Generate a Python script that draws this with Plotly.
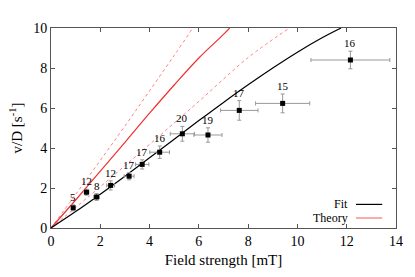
import plotly.graph_objects as go

# measured data points
field = [0.90, 1.44, 1.85, 2.42, 3.17, 3.70, 4.41, 5.33, 6.37, 7.64, 9.40, 12.15]
vd = [1.01, 1.79, 1.55, 2.13, 2.59, 3.18, 3.79, 4.71, 4.65, 5.88, 6.23, 8.40]
field_err = [0.05, 0.10, 0.12, 0.16, 0.20, 0.27, 0.40, 0.49, 0.57, 0.76, 1.10, 1.60]
vd_err = [0.15, 0.15, 0.17, 0.23, 0.18, 0.23, 0.31, 0.37, 0.36, 0.49, 0.47, 0.44]
counts = ["5", "12", "8", "12", "17", "17", "16", "20", "19", "17", "15", "16"]

# curves
fit_x = [0, 1, 2, 3, 4, 5, 6, 7, 8, 9, 10, 11, 11.77]
fit_y = [0, 0.82, 1.69, 2.59, 3.51, 4.44, 5.37, 6.28, 7.16, 8.00, 8.79, 9.51, 10.0]
theory_x = [0, 1, 2, 3, 4, 5, 6, 7, 7.25]
theory_y = [0, 1.40, 2.84, 4.28, 5.74, 7.15, 8.50, 9.68, 10.0]
upper_x = [0, 1, 2, 3, 4, 5, 5.76]
upper_y = [0, 1.68, 3.38, 5.10, 6.86, 8.63, 10.0]
lower_x = [0, 2, 4, 6, 8, 9.68]
lower_y = [0, 2.06, 4.18, 6.33, 8.52, 10.0]

SERIF = "'Liberation Serif', 'DejaVu Serif', serif"

fig = go.Figure()
fig.add_trace(go.Scatter(x=upper_x, y=upper_y, mode="lines", line=dict(color="#ff8080", width=1, dash="3px,3px", shape="spline"), showlegend=False))
fig.add_trace(go.Scatter(x=lower_x, y=lower_y, mode="lines", line=dict(color="#ff8080", width=1, dash="3px,3px", shape="spline"), showlegend=False))
fig.add_trace(go.Scatter(x=theory_x, y=theory_y, mode="lines", line=dict(color="#f03030", width=1.2, shape="spline"), showlegend=False))
fig.add_trace(go.Scatter(x=fit_x, y=fit_y, mode="lines", line=dict(color="black", width=1.2, shape="spline"), showlegend=False))
fig.add_trace(go.Scatter(
    x=field, y=vd, mode="markers",
    marker=dict(symbol="square", size=5, color="black"),
    error_x=dict(type="data", array=field_err, color="#999999", thickness=1, width=2),
    error_y=dict(type="data", array=vd_err, color="#999999", thickness=1, width=2),
    showlegend=False))

for x, y, e, t in zip(field, vd, vd_err, counts):
    fig.add_annotation(x=x, y=y + e, text=t, showarrow=False, yanchor="bottom", yshift=0,
                       font=dict(family=SERIF, size=11, color="black"))

# legend (text left of line sample)
fig.add_annotation(xref="paper", yref="paper", x=0.866, y=0.118, text="Fit", showarrow=False,
                   xanchor="right", yanchor="middle", font=dict(family=SERIF, size=12, color="black"))
fig.add_annotation(xref="paper", yref="paper", x=0.866, y=0.050, text="Theory", showarrow=False,
                   xanchor="right", yanchor="middle", font=dict(family=SERIF, size=12, color="black"))
fig.add_shape(type="line", xref="paper", yref="paper", x0=0.884, x1=0.960, y0=0.118, y1=0.118,
              line=dict(color="black", width=1.2))
fig.add_shape(type="line", xref="paper", yref="paper", x0=0.884, x1=0.960, y0=0.050, y1=0.050,
              line=dict(color="#ffaaaa", width=2))

axis_common = dict(showline=True, linecolor="#555555", linewidth=1, mirror="ticks", ticks="inside",
                   ticklen=4, tickcolor="#555555", showgrid=False, zeroline=False,
                   tickfont=dict(family=SERIF, size=14, color="black"))
fig.update_xaxes(range=[0, 14], dtick=2, **axis_common,
                 title=dict(text="Field strength [mT]", font=dict(family=SERIF, size=15, color="black"), standoff=6))
fig.update_yaxes(range=[0, 10], dtick=2, **axis_common,
                 title=dict(text="v/D [s<sup>-1</sup>]", font=dict(family=SERIF, size=15, color="black"), standoff=6))

fig.update_layout(width=415, height=277, margin=dict(l=51, r=18, t=28, b=44),
                  font=dict(family=SERIF, color="black"),
                  plot_bgcolor="white", paper_bgcolor="white")
fig.write_html("out.html", config={"displayModeBar": False},
               post_script="document.body.style.margin='0px';")
